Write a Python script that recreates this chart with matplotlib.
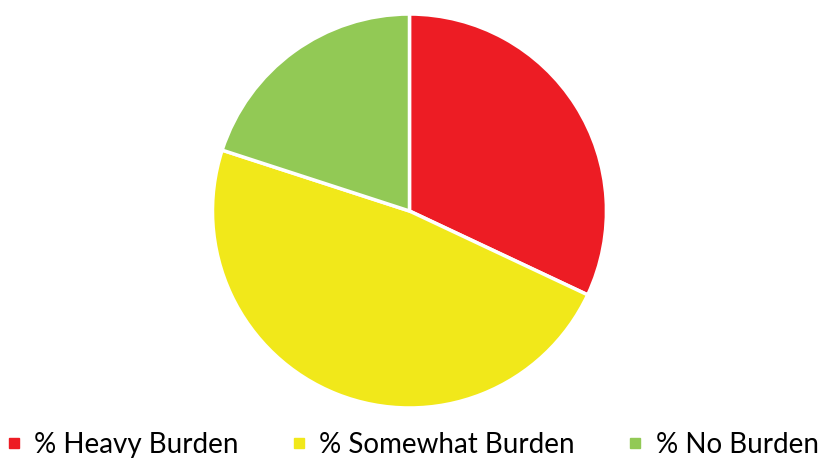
import matplotlib.pyplot as plt
from matplotlib.lines import Line2D

labels = ['% Heavy Burden', '% Somewhat Burden', '% No Burden']
values = [32, 48, 20]
colors = ['#ED1C24', '#F1E81A', '#92C955']

plt.rcParams['font.family'] = ['Lato', 'DejaVu Sans']

fig = plt.figure(figsize=(8.21, 4.59), dpi=100)
ax = fig.add_axes([0.26, 0.1133, 0.4775, 0.854])
ax.pie(values, colors=colors, startangle=90, counterclock=False,
       wedgeprops=dict(edgecolor='white', linewidth=2.5))
ax.set_xlim(-0.995, 0.995)
ax.set_ylim(-0.995, 0.995)
ax.set_aspect('equal')

handles = [Line2D([], [], marker='s', linestyle='none', markersize=7,
                  markerfacecolor=c, markeredgecolor=c) for c in colors]
fig.legend(handles, labels, loc='lower center', ncol=3, frameon=False,
           bbox_to_anchor=(0.5, -0.052), fontsize=20, handletextpad=0.35,
           columnspacing=1.75, handlelength=0.8)

fig.savefig('out.png', dpi=100)
